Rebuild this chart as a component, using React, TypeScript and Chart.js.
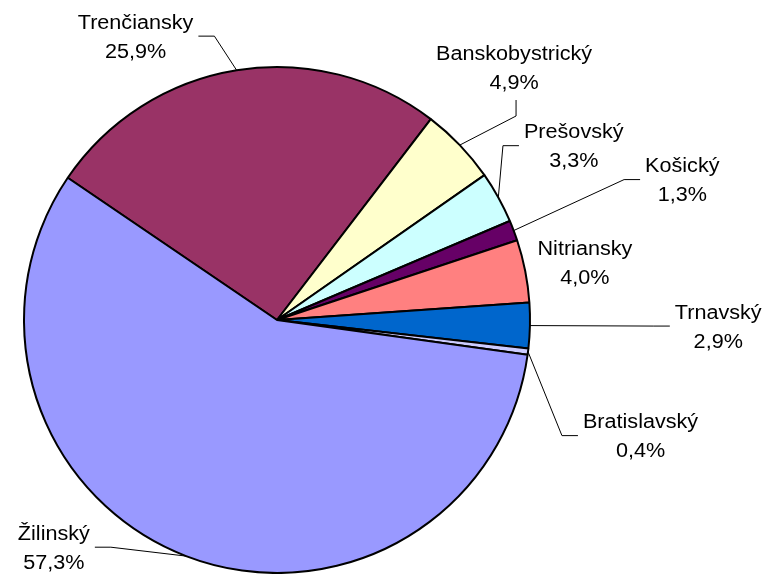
import React, { useEffect, useRef } from "react";
import { Chart, registerables } from "chart.js";

Chart.register(...registerables);

// ---- data ----
const categories = [
  "Trenčiansky",
  "Banskobystrický",
  "Prešovský",
  "Košický",
  "Nitriansky",
  "Trnavský",
  "Bratislavský",
  "Žilinský",
];
const shares = [25.9, 4.9, 3.3, 1.3, 4.0, 2.9, 0.4, 57.3];
const percentLabels = ["25,9%", "4,9%", "3,3%", "1,3%", "4,0%", "2,9%", "0,4%", "57,3%"];

// ---- styles / layout ----
const sliceColors = ["#993366", "#FFFFCC", "#CCFFFF", "#660066", "#FF8080", "#0066CC", "#CCCCFF", "#9999FF"];
// label block centres, in units of the pie radius, relative to the pie centre
const labelOffsets: [number, number][] = [
  [-0.559, -1.122],
  [0.937, -1.0],
  [1.173, -0.689],
  [1.602, -0.555],
  [1.217, -0.228],
  [1.744, 0.024],
  [1.437, 0.457],
  [-0.882, 0.898],
];
const leaderSides = ["right", "bottom", "left", "left", "none", "left", "left", "right"];

const FONT = '20px "Liberation Sans", Arial, sans-serif';
const SCALE_X = 1.08;
const LINE_GAP = 29;

const labelPlugin = {
  id: "pieLabels",
  afterDatasetsDraw(chart: any) {
    const ctx: CanvasRenderingContext2D = chart.ctx;
    const meta = chart.getDatasetMeta(0);
    ctx.save();
    ctx.font = FONT;
    ctx.fillStyle = "#000";
    ctx.textAlign = "center";
    ctx.textBaseline = "alphabetic";
    meta.data.forEach((arc: any, i: number) => {
      const p = arc.getProps(["x", "y", "outerRadius", "startAngle", "endAngle"], true);
      const mid = (p.startAngle + p.endAngle) / 2;
      const cx = p.x + labelOffsets[i][0] * p.outerRadius;
      const cy = p.y + labelOffsets[i][1] * p.outerRadius;
      const lines = [categories[i], percentLabels[i]];
      const capHalf = 0.716 * 20 / 2;
      lines.forEach((t, k) => {
        const base = cy + (k === 0 ? -LINE_GAP / 2 : LINE_GAP / 2) + capHalf;
        ctx.save();
        ctx.translate(cx, base);
        ctx.scale(SCALE_X, 1);
        ctx.fillText(t, 0, 0);
        ctx.restore();
      });
      const w = Math.max(...lines.map((t) => ctx.measureText(t).width)) * SCALE_X;
      const side = leaderSides[i];
      if (side === "none") return;
      const ax = p.x + Math.cos(mid) * p.outerRadius;
      const ay = p.y + Math.sin(mid) * p.outerRadius;
      let sx = cx, sy = cy, ex = cx, ey = cy;
      if (side === "right") {
        sx = cx + w / 2 + 5; ex = sx + 16;
      } else if (side === "left") {
        sx = cx - w / 2 - 5; ex = sx - 16;
      } else if (side === "bottom") {
        sx = cx + 2; sy = cy + 33; ex = sx; ey = sy + 16;
      }
      ctx.beginPath();
      ctx.strokeStyle = "#000";
      ctx.lineWidth = 1;
      ctx.moveTo(sx, sy);
      ctx.lineTo(ex, ey);
      ctx.lineTo(ax, ay);
      ctx.stroke();
    });
    ctx.restore();
  },
};

export default function App() {
  const ref = useRef<HTMLCanvasElement | null>(null);
  useEffect(() => {
    if (!ref.current) return;
    const chart = new Chart(ref.current, {
      type: "pie",
      data: {
        labels: categories,
        datasets: [
          {
            data: shares,
            backgroundColor: sliceColors,
            borderColor: "#000",
            borderWidth: 2,
          },
        ],
      },
      options: {
        animation: false,
        responsive: false,
        rotation: -55.8,
        layout: { padding: { left: 23, top: 66, right: 251, bottom: 0 } },
        plugins: {
          legend: { display: false },
          tooltip: { enabled: false },
        },
      },
      plugins: [labelPlugin],
    });
    return () => chart.destroy();
  }, []);
  return (
    <div style={{ position: "fixed", left: 0, top: 0, width: 782, height: 574, background: "#fff" }}>
      <canvas ref={ref} width={782} height={574} />
    </div>
  );
}
